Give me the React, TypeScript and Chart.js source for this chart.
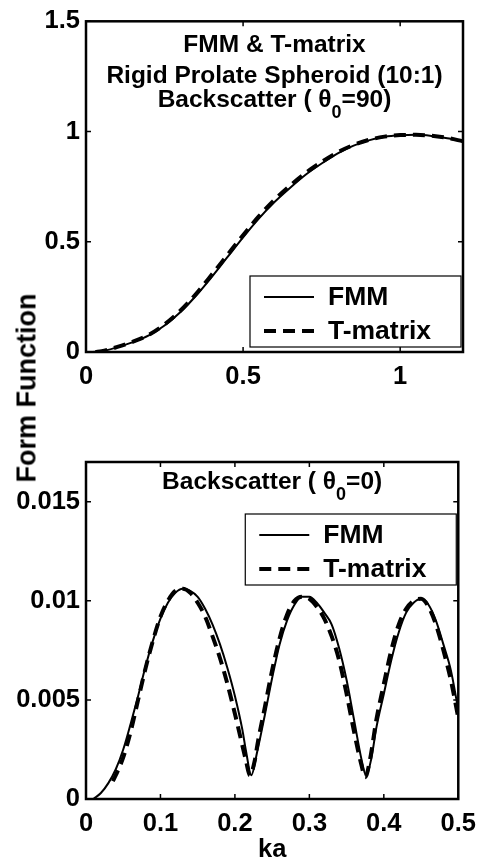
import { useEffect, useRef } from "react";
import { Chart, registerables } from "chart.js";

Chart.register(...registerables);

const FONT = '"Liberation Sans", Arial, Helvetica, sans-serif';

// ---- Top panel: Backscatter (theta0 = 90) ----
const topFmmKa = [0.0, 0.02, 0.05, 0.1, 0.15, 0.2, 0.25, 0.3, 0.35, 0.4, 0.45, 0.5, 0.55, 0.6, 0.65, 0.7, 0.75, 0.8, 0.85, 0.9, 0.95, 1.0, 1.05, 1.1, 1.15, 1.2];
const topFmmFF = [0.0, 0.0, 0.003, 0.022, 0.045, 0.075, 0.12, 0.18, 0.255, 0.34, 0.43, 0.52, 0.605, 0.68, 0.745, 0.805, 0.855, 0.9, 0.935, 0.96, 0.976, 0.983, 0.985, 0.98, 0.97, 0.955];
const topTmKa = [0.03, 0.05, 0.1, 0.15, 0.2, 0.25, 0.3, 0.35, 0.4, 0.45, 0.5, 0.55, 0.6, 0.65, 0.7, 0.75, 0.8, 0.85, 0.9, 0.95, 1.0, 1.05, 1.1, 1.15, 1.2];
const topTmFF = [0.0, 0.004, 0.023, 0.047, 0.078, 0.125, 0.187, 0.263, 0.35, 0.44, 0.53, 0.615, 0.69, 0.755, 0.813, 0.862, 0.905, 0.938, 0.962, 0.977, 0.984, 0.985, 0.981, 0.971, 0.956];
const topXTicks = [0, 0.5, 1];
const topYTicks = [0, 0.5, 1, 1.5];

// ---- Bottom panel: Backscatter (theta0 = 0) ----
const botFmmKa = [0.01, 0.02, 0.03, 0.04, 0.05, 0.06, 0.07, 0.08, 0.09, 0.1, 0.11, 0.12, 0.13, 0.14, 0.15, 0.16, 0.17, 0.18, 0.19, 0.2, 0.21, 0.215, 0.222, 0.23, 0.24, 0.25, 0.26, 0.27, 0.28, 0.29, 0.3, 0.31, 0.32, 0.33, 0.34, 0.35, 0.36, 0.37, 0.376, 0.383, 0.39, 0.4, 0.41, 0.42, 0.43, 0.44, 0.45, 0.46, 0.47, 0.48, 0.49, 0.5];
const botFmmFF = [0.0, 0.0003, 0.0008, 0.0015, 0.0025, 0.0038, 0.0052, 0.0067, 0.008, 0.0091, 0.0099, 0.0104, 0.0106, 0.0105, 0.0102, 0.0096, 0.0088, 0.0078, 0.0066, 0.0052, 0.0035, 0.0024, 0.0012, 0.0024, 0.0042, 0.0061, 0.0078, 0.009, 0.0098, 0.0102, 0.0102, 0.0099, 0.0094, 0.0088, 0.0076, 0.006, 0.004, 0.002, 0.0012, 0.002, 0.0036, 0.0053, 0.007, 0.0084, 0.0094, 0.0099, 0.0101, 0.0098, 0.009, 0.0078, 0.0065, 0.0045];
const botTmKa = [0.036, 0.04, 0.05, 0.06, 0.07, 0.08, 0.09, 0.1, 0.11, 0.12, 0.13, 0.14, 0.15, 0.16, 0.17, 0.18, 0.19, 0.2, 0.21, 0.215, 0.22, 0.227, 0.23, 0.24, 0.25, 0.26, 0.27, 0.28, 0.29, 0.3, 0.31, 0.32, 0.33, 0.34, 0.35, 0.36, 0.37, 0.375, 0.381, 0.39, 0.4, 0.41, 0.42, 0.43, 0.44, 0.45, 0.46, 0.47, 0.48, 0.49, 0.5];
const botTmFF = [0.0009, 0.0012, 0.0021, 0.0034, 0.005, 0.0066, 0.008, 0.0092, 0.01, 0.0105, 0.0106, 0.0104, 0.0099, 0.0092, 0.0082, 0.0071, 0.0058, 0.0043, 0.0027, 0.0019, 0.0012, 0.002, 0.0027, 0.0046, 0.0065, 0.0081, 0.0093, 0.01, 0.0102, 0.0101, 0.0097, 0.0091, 0.0082, 0.007, 0.0053, 0.0034, 0.0017, 0.0011, 0.0019, 0.004, 0.0058, 0.0075, 0.0088, 0.0096, 0.01, 0.0101, 0.0097, 0.0088, 0.0075, 0.006, 0.0041];
const botXTicks = [0, 0.1, 0.2, 0.3, 0.4, 0.5];
const botYTicks = [0, 0.005, 0.01, 0.015];

const seriesLabels = ["FMM", "T-matrix"];
const yAxisTitle = "Form Function";
const xAxisTitle = "ka";

type Seg = { text: string; sub?: boolean };

function drawRich(ctx: CanvasRenderingContext2D, segs: Seg[], cx: number, cy: number, size: number) {
  const main = `bold ${size}px ${FONT}`;
  const small = `bold ${Math.round(size * 0.72)}px ${FONT}`;
  let total = 0;
  for (const s of segs) {
    ctx.font = s.sub ? small : main;
    total += ctx.measureText(s.text).width;
  }
  let x = cx - total / 2;
  ctx.textAlign = "left";
  ctx.textBaseline = "middle";
  ctx.fillStyle = "#000";
  for (const s of segs) {
    ctx.font = s.sub ? small : main;
    ctx.fillText(s.text, x, s.sub ? cy + size * 0.5 : cy);
    x += ctx.measureText(s.text).width;
  }
}

const frameTicks = {
  id: "frameTicks",
  afterDatasetsDraw(chart: any) {
    const { ctx, chartArea: a, scales } = chart;
    ctx.save();
    ctx.strokeStyle = "#000";
    ctx.lineWidth = 1.5;
    const L = 5;
    for (const t of scales.x.ticks) {
      const p = scales.x.getPixelForValue(t.value);
      ctx.beginPath();
      ctx.moveTo(p, a.bottom);
      ctx.lineTo(p, a.bottom - L);
      ctx.moveTo(p, a.top);
      ctx.lineTo(p, a.top + L);
      ctx.stroke();
    }
    for (const t of scales.y.ticks) {
      const p = scales.y.getPixelForValue(t.value);
      ctx.beginPath();
      ctx.moveTo(a.left, p);
      ctx.lineTo(a.left + L, p);
      ctx.moveTo(a.right, p);
      ctx.lineTo(a.right - L, p);
      ctx.stroke();
    }
    ctx.lineWidth = 2.5;
    ctx.strokeRect(a.left, a.top, a.right - a.left, a.bottom - a.top);
    ctx.restore();
  },
};

function makeDecor(id: string, titleLines: { segs: Seg[]; dy: number }[], legendTop: (a: any) => number) {
  return {
    id,
    afterDraw(chart: any) {
      const { ctx, chartArea: a } = chart;
      ctx.save();
      const cx = (a.left + a.right) / 2;
      for (const ln of titleLines) drawRich(ctx, ln.segs, cx, a.top + ln.dy, 24.5);
      // legend box
      const bw = 211;
      const bh = 71;
      const bx = a.right - 2 - bw;
      const by = legendTop(a);
      ctx.fillStyle = "#fff";
      ctx.fillRect(bx, by, bw, bh);
      ctx.strokeStyle = "#000";
      ctx.lineWidth = 1.2;
      ctx.strokeRect(bx, by, bw, bh);
      const rows = [21, 55];
      chart.data.datasets.forEach((ds: any, i: number) => {
        const y = by + rows[i];
        ctx.beginPath();
        ctx.strokeStyle = ds.borderColor;
        ctx.lineWidth = ds.borderWidth;
        ctx.setLineDash(ds.borderDash || []);
        ctx.moveTo(bx + 14, y);
        ctx.lineTo(bx + 64, y);
        ctx.stroke();
        ctx.setLineDash([]);
        ctx.fillStyle = "#000";
        ctx.font = `bold 26.5px ${FONT}`;
        ctx.textAlign = "left";
        ctx.textBaseline = "middle";
        ctx.fillText(ds.label, bx + 78, y + 1);
      });
      ctx.restore();
    },
  };
}

function xy(xs: number[], ys: number[]) {
  return xs.map((x, i) => ({ x, y: ys[i] }));
}

function datasets(fKa: number[], fFF: number[], tKa: number[], tFF: number[]) {
  return [
    {
      label: seriesLabels[0],
      data: xy(fKa, fFF),
      borderColor: "#000",
      borderWidth: 2,
      pointRadius: 0,
      fill: false,
      cubicInterpolationMode: "monotone",
    },
    {
      label: seriesLabels[1],
      data: xy(tKa, tFF),
      borderColor: "#000",
      borderWidth: 4,
      borderDash: [12, 7],
      pointRadius: 0,
      fill: false,
      cubicInterpolationMode: "monotone",
    },
  ];
}

const tickFont = { family: FONT, size: 25.5, weight: "bold" as const };

function scaleOpts(min: number, max: number, ticks: number[], axis: "x" | "y", extra: any = {}) {
  return {
    type: "linear",
    min,
    max,
    afterBuildTicks: (s: any) => {
      s.ticks = ticks.map((v) => ({ value: v }));
    },
    grid: { display: false, drawTicks: false },
    border: { display: false },
    ticks: {
      color: "#000",
      font: tickFont,
      padding: axis === "x" ? 10 : 6,
      maxRotation: 0,
      autoSkip: false,
      includeBounds: false,
      callback: (v: number) => String(v),
    },
    ...extra,
  };
}

function useChart(ref: React.RefObject<HTMLCanvasElement | null>, build: () => any) {
  useEffect(() => {
    if (!ref.current) return;
    const chart = new Chart(ref.current, build());
    return () => chart.destroy();
  }, []);
}

export default function App() {
  const topRef = useRef<HTMLCanvasElement>(null);
  const botRef = useRef<HTMLCanvasElement>(null);

  useChart(topRef, () => ({
    type: "line",
    data: { datasets: datasets(topFmmKa, topFmmFF, topTmKa, topTmFF) },
    options: {
      animation: false,
      responsive: false,
      devicePixelRatio: 1,
      layout: { padding: { left: 6, right: 23, top: 16, bottom: 28 } },
      plugins: { legend: { display: false }, tooltip: { enabled: false } },
      scales: {
        x: scaleOpts(0, 1.2, topXTicks, "x", { afterFit: (s: any) => { s.height = 40; } }),
        y: scaleOpts(0, 1.5, topYTicks, "y", { afterFit: (s: any) => { s.width = 80; } }),
      },
    },
    plugins: [
      frameTicks,
      makeDecor(
        "topDecor",
        [
          { segs: [{ text: "FMM & T-matrix" }], dy: 23.5 },
          { segs: [{ text: "Rigid Prolate Spheroid (10:1)" }], dy: 55 },
          { segs: [{ text: "Backscatter ( θ" }, { text: "0", sub: true }, { text: "=90)" }], dy: 79 },
        ],
        (a: any) => a.bottom - 76
      ),
    ],
  }));

  useChart(botRef, () => ({
    type: "line",
    data: { datasets: datasets(botFmmKa, botFmmFF, botTmKa, botTmFF) },
    options: {
      animation: false,
      responsive: false,
      devicePixelRatio: 1,
      layout: { padding: { left: 6, right: 22, top: 42, bottom: 1 } },
      plugins: { legend: { display: false }, tooltip: { enabled: false } },
      scales: {
        x: scaleOpts(0, 0.5, botXTicks, "x", {
          afterFit: (s: any) => { s.height = 66; },
          title: {
            display: true,
            text: xAxisTitle,
            color: "#000",
            font: { family: FONT, size: 25.5, weight: "bold" },
            padding: { top: 0, bottom: 0 },
          },
        }),
        y: scaleOpts(0, 0.017, botYTicks, "y", { afterFit: (s: any) => { s.width = 80; } }),
      },
    },
    plugins: [
      frameTicks,
      makeDecor(
        "botDecor",
        [{ segs: [{ text: "Backscatter ( θ" }, { text: "0", sub: true }, { text: "=0)" }], dy: 20.5 }],
        (a: any) => a.top + 52
      ),
    ],
  }));

  return (
    <div style={{ position: "absolute", left: 0, top: 0, width: 486, height: 866, background: "#fff", overflow: "hidden" }}>
      <canvas ref={topRef} width={486} height={420} style={{ position: "absolute", left: 0, top: 0, width: 486, height: 420 }} />
      <canvas ref={botRef} width={486} height={446} style={{ position: "absolute", left: 0, top: 420, width: 486, height: 446 }} />
      <div
        style={{
          position: "absolute",
          left: 27,
          top: 388,
          transform: "translate(-50%, -50%) rotate(-90deg)",
          fontFamily: FONT,
          fontWeight: "bold",
          fontSize: 27,
          whiteSpace: "nowrap",
          color: "#000",
          lineHeight: 1,
        }}
      >
        {yAxisTitle}
      </div>
    </div>
  );
}
